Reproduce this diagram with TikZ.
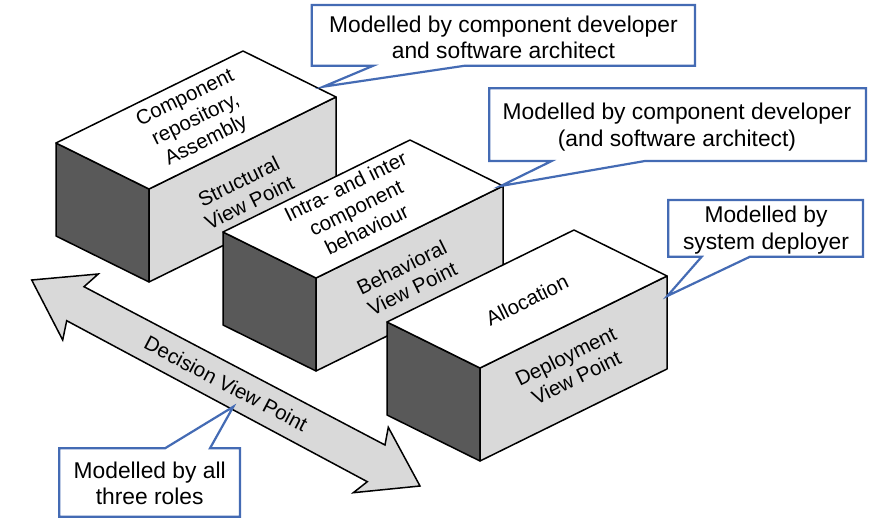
\documentclass[tikz,border=0pt]{standalone}
\usepackage{fontspec}
\setmainfont{Liberation Sans}
\definecolor{facelight}{RGB}{217,217,217}
\definecolor{facedark}{RGB}{89,89,89}
\definecolor{callblue}{RGB}{68,107,180}
\newcommand\viewbox[3]{% name, x, y of front-top corner
 \begin{scope}[shift={(#2,#3)}]
  \coordinate (#1-f) at (0,0);
  \coordinate (#1-l) at (-93,-46);
  \coordinate (#1-r) at (187,-92);
  \coordinate (#1-b) at (94,-138);
  \coordinate (#1-fb) at (0,93);
  \coordinate (#1-lb) at (-93,47);
  \coordinate (#1-rb) at (187,1);
  \filldraw[sideface] (#1-f)--(#1-l)--(#1-lb)--(#1-fb)--cycle;
  \filldraw[frontface] (#1-f)--(#1-r)--(#1-rb)--(#1-fb)--cycle;
  \filldraw[topface] (#1-f)--(#1-l)--(#1-b)--(#1-r)--cycle;
 \end{scope}}
\begin{document}
\begin{tikzpicture}[x=1pt,y=-1pt,
  face/.style={draw=black,line width=1.5pt,line join=round},
  sideface/.style={face,fill=facedark},
  frontface/.style={face,fill=facelight},
  topface/.style={face,fill=white},
  textbase/.style={font=\fontsize{20.5}{24}\selectfont,align=center,inner sep=0pt},
  boxtext/.style={textbase,rotate=26.2},
  arrowtext/.style={textbase,rotate=-27.7},
  arrowshape/.style={draw=black,line width=1.5pt,fill=facelight,line join=miter},
  callout/.style={draw=callblue,line width=2.2pt,fill=white,line join=miter},
  calltext/.style={font=\fontsize{22.8}{26.7}\selectfont,align=center,inner sep=0pt}]
\useasboundingbox (0,0) rectangle (871,521);

% view boxes
\viewbox{s}{149}{189}
\node[boxtext] (stop) at (196,120) {Component\\repository,\\Assembly};
\node[boxtext] (sfront) at (244,192) {Structural\\View Point};

\viewbox{b}{316}{278}
\node[boxtext] (btop) at (356,208) {Intra- and inter\\component\\behaviour};
\node[boxtext] (bfront) at (407,278) {Behavioral\\View Point};

\viewbox{d}{480}{368}
\node[boxtext] (dtop) at (527,300) {Allocation};
\node[boxtext] (dfront) at (571,367) {Deployment\\View Point};

% decision arrow
\filldraw[arrowshape] (31.7,280) -- (98.3,274) -- (84,286.7) -- (385,445)
  -- (388.3,427.3) -- (420,486) -- (353.3,492.7) -- (367.3,481.7)
  -- (66.7,320.7) -- (62.7,340) -- cycle;
\node[arrowtext] (dec) at (226,383.5) {Decision View Point};

% callouts
\filldraw[callout] (311.7,5) -- (695,5) -- (695,65.7) -- (465,65.7)
  -- (323.3,86.7) -- (373.3,65.7) -- (311.7,65.7) -- cycle;
\node[calltext] (c1) at (503.4,37.5) {Modelled by component developer\\and software architect};

\filldraw[callout] (489.3,88.3) -- (866,88.3) -- (866,161) -- (645,161)
  -- (500.7,186) -- (551.7,161) -- (489.3,161) -- cycle;
\node[calltext] (c2) at (677,127) {Modelled by component developer\\(and software architect)};

\filldraw[callout] (668.3,200) -- (863,200) -- (863,256.7) -- (750,256.7)
  -- (667.3,296) -- (701.7,256.7) -- (668.3,256.7) -- cycle;
\node[calltext] (c3) at (766,230) {Modelled by\\system deployer};

\filldraw[callout] (59.3,448.3) -- (165,448.3) -- (233.3,406.7) -- (210,448.3)
  -- (240,448.3) -- (240,516.7) -- (59.3,516.7) -- cycle;
\node[calltext] (c4) at (149.7,483.5) {Modelled by all\\three roles};
\end{tikzpicture}
\end{document}
